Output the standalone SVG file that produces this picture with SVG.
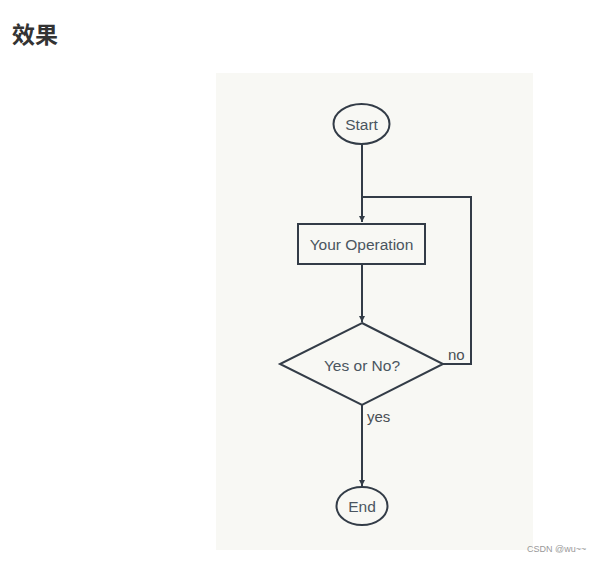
<svg xmlns="http://www.w3.org/2000/svg" width="603" height="562" viewBox="0 0 603 562">
<style>
.shape{fill:#f8f8f4;stroke:#333c47;stroke-width:2}
.conn{fill:none;stroke:#333c47;stroke-width:2}
.lbl{font-family:"Liberation Sans",Arial,sans-serif;font-size:15px;fill:#4a4f55}
.t{font-family:"Liberation Sans",Arial,sans-serif;font-size:15.5px;fill:#4a5560;text-anchor:middle;dominant-baseline:central}
</style>
<defs>
<marker id="arr" markerWidth="8" markerHeight="8" refX="6" refY="4" orient="auto" markerUnits="userSpaceOnUse">
<path d="M0,1 L6,4 L0,7 Z" fill="#333c47"/>
</marker>
</defs>
<rect width="603" height="562" fill="#ffffff"/>
<text x="12" y="43" font-family="'Noto Sans CJK SC',sans-serif" font-size="23" font-weight="bold" fill="#333">效果</text>
<rect x="216" y="73" width="317" height="477" fill="#f8f8f4"/>
<g id="connectors">
<path class="conn" d="M362,144 L362,222" marker-end="url(#arr)"/>
<path class="conn" d="M362,264 L362,322" marker-end="url(#arr)"/>
<path class="conn" d="M362,405 L362,486" marker-end="url(#arr)"/>
<path class="conn" d="M443,364 L471,364 L471,197 L362,197"/>
<text class="lbl" x="448" y="360">no</text>
<text class="lbl" x="367" y="422">yes</text>
</g>
<g id="start">
<ellipse class="shape" cx="361.5" cy="124" rx="28" ry="20"/>
<text class="t" x="361.5" y="124">Start</text>
</g>
<g id="operation">
<rect class="shape" x="298" y="224" width="127" height="40"/>
<text class="t" x="361.5" y="244">Your Operation</text>
</g>
<g id="decision">
<polygon class="shape" points="362,323 443,364 362,405 280,364"/>
<text class="t" x="362" y="365">Yes or No?</text>
</g>
<g id="end">
<ellipse class="shape" cx="362" cy="506" rx="25.5" ry="19"/>
<text class="t" x="362" y="506">End</text>
</g>
<text x="527" y="552" font-family="'Liberation Sans',Arial,sans-serif" font-size="9" fill="#999">CSDN @wu~~</text>
</svg>
